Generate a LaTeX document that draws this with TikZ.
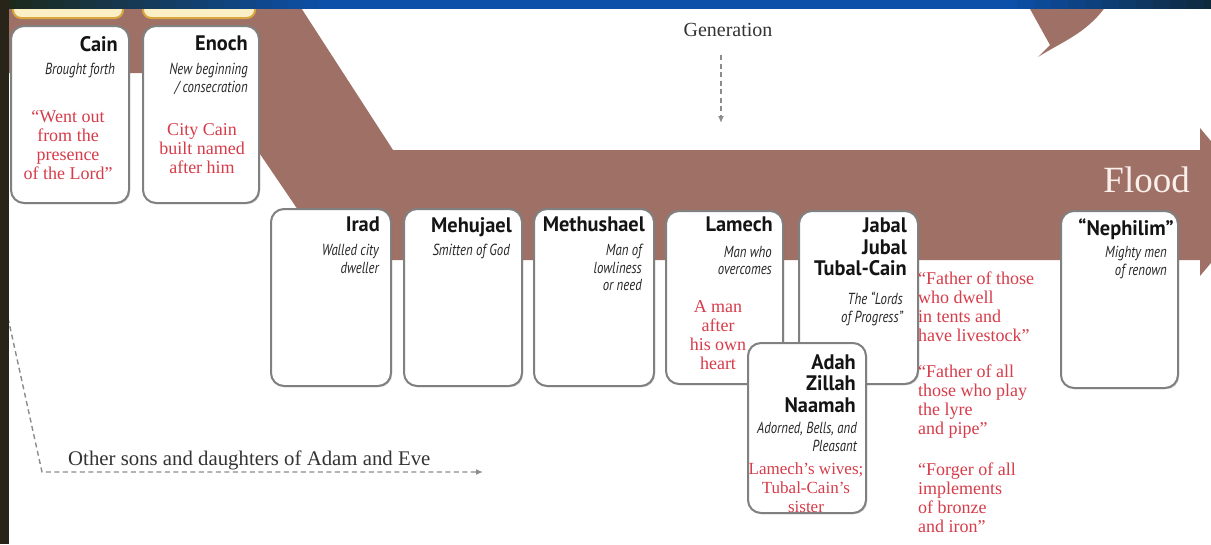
\documentclass[tikz,border=0pt]{standalone}
\usepackage{fontspec}
\setmainfont{Liberation Serif}
\newfontfamily\headfont[FakeStretch=0.97]{PT Sans}
\newfontfamily\subfont[FakeStretch=0.8]{PT Sans}
\usetikzlibrary{arrows.meta,shadows}
\definecolor{band}{HTML}{9F7166}
\definecolor{redtxt}{HTML}{D63C4A}
\definecolor{boxline}{HTML}{808080}
\definecolor{headtxt}{HTML}{141414}
\definecolor{subtxt}{HTML}{262626}
\definecolor{dashgray}{HTML}{8C8C8C}
\definecolor{glowfill}{HTML}{FBEFC6}
\definecolor{glowline}{HTML}{D9A640}
\definecolor{floodtxt}{HTML}{FAEFEA}
\definecolor{graytxt}{HTML}{333333}
\definecolor{stripA}{HTML}{1C2A1C}
\definecolor{stripB}{HTML}{0C50AA}
\definecolor{stripC}{HTML}{0F2837}
\definecolor{stripL}{HTML}{28241A}
\begin{document}
\begin{tikzpicture}[x=1pt,y=-1pt,
  card/.style={draw=boxline, line width=2pt, fill=white, rounded corners=13pt,
    inner sep=0pt, anchor=north west,
    drop shadow={shadow xshift=1.2pt, shadow yshift=-1.2pt, opacity=0.18, fill=black}},
  head/.style={font=\headfont\bfseries\fontsize{21}{21.5}\selectfont, text=headtxt,
    align=right, anchor=north east, inner sep=0pt},
  subt/.style={font=\subfont\itshape\fontsize{16}{17.5}\selectfont, text=subtxt,
    align=right, anchor=north east, inner sep=0pt},
  redq/.style={font=\fontsize{18}{19}\selectfont, text=redtxt, align=center,
    anchor=north, inner sep=0pt},
  redql/.style={redq, align=left, anchor=north west},
  link/.style={draw=dashgray, line width=1.4pt, dash pattern=on 5pt off 3.5pt,
    -{Latex[length=7pt,width=6pt]}},
  glow/.style={fill=glowfill, draw=glowline, line width=2pt, rounded corners=8pt}
]
\useasboundingbox (0,544) rectangle (1211,0);
\fill[white] (0,544) rectangle (1211,0);

% brown band with arrow
\fill[band] (5,0) -- (296,0) -- (393,150) -- (1200,150) -- (1200,128) -- (1262,202)
  -- (1200,276) -- (1200,260) -- (332,260) -- (205,73) -- (5,73) -- cycle;
% partial brown shape top right
\fill[band] (1025,0) -- (1050,45) -- (1038,57) .. controls (1065,40) and (1090,32) .. (1110,0) -- cycle;

% bottoms of boxes above
\path[glow] (13,-20) rectangle (123,18);
\path[glow] (143,-20) rectangle (255,18);

% cards
\node[card, minimum width=118pt, minimum height=177pt] (cain) at (10,25) {};
\node[card, minimum width=116pt, minimum height=177pt] (enoch) at (142,25) {};
\node[card, minimum width=120pt, minimum height=177pt] (irad) at (270,208) {};
\node[card, minimum width=118pt, minimum height=177pt] (mehujael) at (403,208) {};
\node[card, minimum width=120pt, minimum height=177pt] (methushael) at (533,208) {};
\node[card, minimum width=117pt, minimum height=173pt] (lamech) at (665,210) {};
\node[card, minimum width=119pt, minimum height=173pt] (jabal) at (798,210) {};
\node[card, minimum width=118pt, minimum height=170pt] (adah) at (747,342) {};
\node[card, minimum width=117pt, minimum height=177pt] (nephilim) at (1060,210) {};

% headings
\node[head] (cainH) at (118,36) {Cain};
\node[head] (enochH) at (248,36) {Enoch};
\node[head] (iradH) at (380,217) {Irad};
\node[head] (mehujaelH) at (512,217) {Mehujael};
\node[head] (methushaelH) at (645,217) {Methushael};
\node[head] (lamechH) at (773,217) {Lamech};
\node[head] (jabalH) at (907,218) {Jabal\\Jubal\\Tubal-Cain};
\node[head] (adahH) at (856,354) {Adah\\Zillah\\Naamah};
\node[head] (nephilimH) at (1174,219) {“Nephilim”};

% subtitles
\node[subt] (cainS) at (115,63) {Brought forth};
\node[subt] (enochS) at (248,63) {New beginning\\/ consecration};
\node[subt] (iradS) at (379,244) {Walled city\\dweller};
\node[subt] (mehujaelS) at (510,244) {Smitten of God};
\node[subt] (methushaelS) at (642,244) {Man of\\lowliness\\or need};
\node[subt] (lamechS) at (772,246) {Man who\\overcomes};
\node[subt] (jabalS) at (903,292) {The “Lords\\of Progress”};
\node[subt] (adahS) at (857,422) {Adorned, Bells, and\\Pleasant};
\node[subt] (nephilimS) at (1167,246) {Mighty men\\of renown};

% red notes
\node[redq] (cainQ) at (68,110) {“Went out\\from the\\presence\\of the Lord”};
\node[redq] (enochQ) at (202,123) {City Cain\\built named\\after him};
\node[redq] (lamechQ) at (718,300) {A man\\after\\his own\\heart};
\node[redq, font=\fontsize{17}{19}\selectfont] (adahQ) at (806,462) {Lamech’s wives;\\Tubal-Cain’s\\sister};
\node[redql] (jabalQ) at (918,272) {“Father of those\\who dwell\\in tents and\\have livestock”};
\node[redql] (jubalQ) at (918,365) {“Father of all\\those who play\\the lyre\\and pipe”};
\node[redql] (tubalQ) at (918,463) {“Forger of all\\implements\\of bronze\\and iron”};

% Flood
\node[font=\fontsize{37}{37}\selectfont, text=floodtxt,
  anchor=base east, inner sep=0pt] (flood) at (1190,192) {Flood};

% Generation
\node[font=\fontsize{20}{22}\selectfont, text=graytxt,
  anchor=north, inner sep=0pt] (gen) at (728,23) {Generation};
\coordinate (genS) at (721,55);
\coordinate (genE) at (721,123);
\draw[link] (genS) -- (genE);

% other sons and daughters
\node[font=\fontsize{20.8}{22}\selectfont, text=graytxt,
  anchor=base west, inner sep=0pt] (others) at (68,465) {Other sons and daughters of Adam and Eve};
\coordinate (othS) at (8,318);
\coordinate (othC) at (42,472);
\coordinate (othE) at (483,472);
\draw[link] (othS) -- (othC) -- (othE);

% slide background strips (stepped gradient)
\foreach \i in {0,...,19}{
  \pgfmathtruncatemacro\p{\i*5}
  \fill[stripB!\p!stripA] ({\i*16},9) rectangle ({\i*16+17},0);
}
\fill[stripB] (319,9) rectangle (1001,0);
\foreach \i in {0,...,12}{
  \pgfmathtruncatemacro\p{\i*8}
  \fill[stripC!\p!stripB] ({1000+\i*17},9) rectangle ({1018+\i*17},0);
}
\fill[stripL] (0,544) rectangle (9,0);
\end{tikzpicture}
\end{document}
